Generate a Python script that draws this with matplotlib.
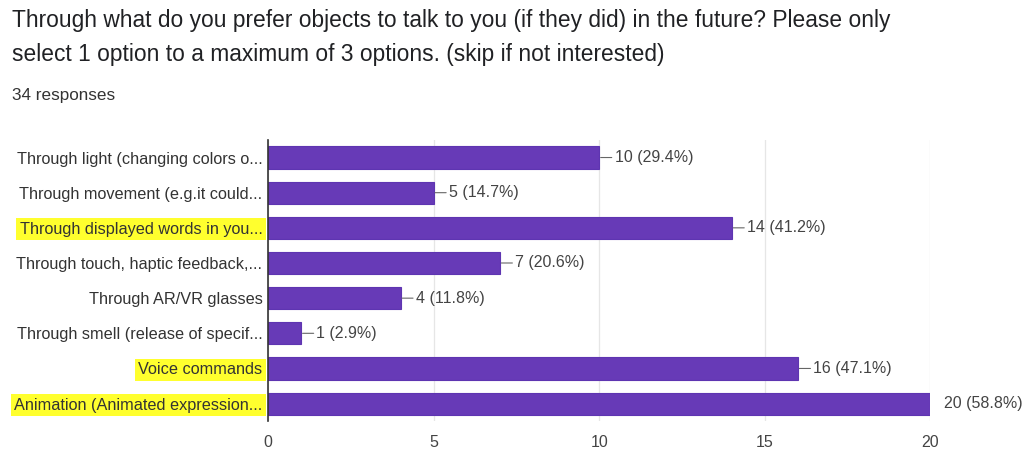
import matplotlib.pyplot as plt

plt.rcParams["font.family"] = ["Liberation Sans", "DejaVu Sans"]

options = [
    "Through light (changing colors o...",
    "Through movement (e.g.it could...",
    "Through displayed words in you...",
    "Through touch, haptic feedback,...",
    "Through AR/VR glasses",
    "Through smell (release of specif...",
    "Voice commands",
    "Animation (Animated expression...",
]
counts = [10, 5, 14, 7, 4, 1, 16, 20]
percents = [29.4, 14.7, 41.2, 20.6, 11.8, 2.9, 47.1, 58.8]
highlighted = [2, 6, 7]
total = 34

fig = plt.figure(figsize=(10.27, 4.5), dpi=100)
ax = fig.add_axes([0.261, 0.064, 0.645, 0.625])

y = range(len(options))
ax.barh(y, counts, height=0.63, color="#673ab7", edgecolor="#5e35b1", linewidth=0.8, zorder=3)
ax.set_ylim(len(options) - 0.5, -0.5)
ax.set_xlim(0, 20)
ax.set_xticks([0, 5, 10, 15, 20])
ax.set_yticks(list(y))
ax.set_yticklabels(options)
ax.tick_params(axis="y", length=0, pad=4, labelsize=11.7, labelcolor="#333333")
ax.tick_params(axis="x", length=0, pad=10, labelsize=11.5, labelcolor="#444444")
ax.grid(axis="x", color="#e6e6e6", linewidth=0.9, zorder=0)
for s in ["top", "right", "bottom"]:
    ax.spines[s].set_visible(False)
ax.spines["left"].set_color("#333333")
ax.spines["left"].set_linewidth(1.2)
ax.spines["left"].set_zorder(4)

for i, lab in enumerate(ax.get_yticklabels()):
    if i in highlighted:
        lab.set_bbox(dict(facecolor="#ffff2e", edgecolor="none", pad=2.5))

for i, (c, p) in enumerate(zip(counts, percents)):
    txt = f"{c} ({p}%)"
    if c >= 20:
        ax.annotate(txt, (c, i), xytext=(10, 0), textcoords="offset points",
                    va="center", ha="left", fontsize=11.5, color="#444444",
                    annotation_clip=False)
    else:
        ax.annotate(txt, (c, i), xytext=(11, 0), textcoords="offset points",
                    va="center", ha="left", fontsize=11.5, color="#444444",
                    arrowprops=dict(arrowstyle="-", color="#666666", lw=0.8,
                                    shrinkA=0, shrinkB=1))

fig.text(0.012, 0.955, "Through what do you prefer objects to talk to you (if they did) in the future? Please only",
         fontsize=16.4, color="#202124", va="center")
fig.text(0.012, 0.878, "select 1 option to a maximum of 3 options. (skip if not interested)",
         fontsize=16.4, color="#202124", va="center")
fig.text(0.012, 0.787, f"{total} responses", fontsize=12.3, color="#333333", va="center")

fig.savefig("out.png", dpi=100)
